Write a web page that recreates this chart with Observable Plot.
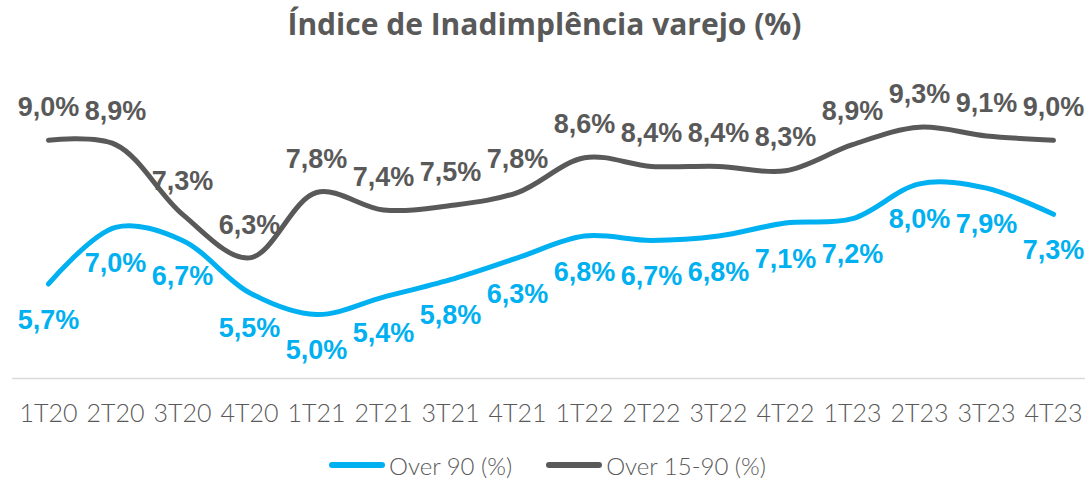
<!DOCTYPE html>
<html>
<head>
<meta charset="utf-8">
<script src="https://cdn.jsdelivr.net/npm/d3@7"></script>
<script src="https://cdn.jsdelivr.net/npm/@observablehq/plot@0.6"></script>
<style>
  html, body { margin: 0; padding: 0; background: #fff; }
  #wrap { width: 1089px; }
  #title { height: 50px; line-height: 48px; text-align: center; font-family: "Open Sans", sans-serif; font-weight: 700; font-size: 30px; color: #595959; }
  #legend { display: flex; justify-content: center; align-items: center; gap: 34px; height: 50px; font-family: Lato, "Open Sans", sans-serif; font-weight: 300; font-size: 24px; color: #595959; padding-left: 6px; }
  .item { display: flex; align-items: center; }
  .sw { width: 56px; height: 6px; border-radius: 3px; margin-right: 4px; }
</style>
</head>
<body>
<div id="wrap">
  <div id="title">Índice de Inadimplência varejo (%)</div>
  <div id="chart"></div>
  <div id="legend"></div>
</div>
<script>
const quarters = ["1T20","2T20","3T20","4T20","1T21","2T21","3T21","4T21","1T22","2T22","3T22","4T22","1T23","2T23","3T23","4T23"];
const over90 = [5.7,7.0,6.7,5.5,5.0,5.4,5.8,6.3,6.8,6.7,6.8,7.1,7.2,8.0,7.9,7.3];
const over1590 = [9.0,8.9,7.3,6.3,7.8,7.4,7.5,7.8,8.6,8.4,8.4,8.3,8.9,9.3,9.1,9.0];
const seriesNames = ["Over 90 (%)", "Over 15-90 (%)"];
const colors = ["#00B0F0", "#595959"];

const d90 = quarters.map((q, i) => ({q, v: over90[i]}));
const d1590 = quarters.map((q, i) => ({q, v: over1590[i]}));
const fmt = v => v.toFixed(1).replace(".", ",") + "%";
const yMin = 3.53;
const labelFont = "'Liberation Sans', Arial, sans-serif";

const chart = Plot.plot({
  width: 1089,
  height: 390,
  marginLeft: 12,
  marginRight: 4,
  marginTop: 68,
  marginBottom: 62,
  x: {type: "point", domain: quarters, range: [45, 1055], padding: 0},
  y: {domain: [yMin, 9.5], axis: null},
  style: {fontFamily: "'Open Sans', sans-serif", background: "#fff"},
  marks: [
    Plot.ruleY([yMin], {stroke: "#d9d9d9", strokeWidth: 1.5}),
    Plot.axisX({tickSize: 0, tickPadding: 26, fontSize: 25, fontFamily: "Lato, 'Open Sans', sans-serif", fontWeight: 300, fill: "#595959", label: null}),
    Plot.line(d1590, {x: "q", y: "v", stroke: colors[1], strokeWidth: 5, curve: "catmull-rom", strokeLinecap: "round"}),
    Plot.line(d90, {x: "q", y: "v", stroke: colors[0], strokeWidth: 5, curve: "catmull-rom", strokeLinecap: "round"}),
    Plot.text(d1590, {x: "q", y: "v", text: d => fmt(d.v), dy: -33, fill: colors[1], fontSize: 27, fontWeight: 700, fontFamily: labelFont}),
    Plot.text(d90, {x: "q", y: "v", text: d => fmt(d.v), dy: 36, fill: colors[0], fontSize: 27, fontWeight: 700, fontFamily: labelFont})
  ]
});
document.getElementById("chart").appendChild(chart);

const legend = document.getElementById("legend");
seriesNames.forEach((n, i) => {
  const it = document.createElement("div");
  it.className = "item";
  const sw = document.createElement("div");
  sw.className = "sw";
  sw.style.background = colors[i];
  const t = document.createElement("span");
  t.textContent = n;
  it.appendChild(sw); it.appendChild(t);
  legend.appendChild(it);
});
</script>
</body>
</html>
